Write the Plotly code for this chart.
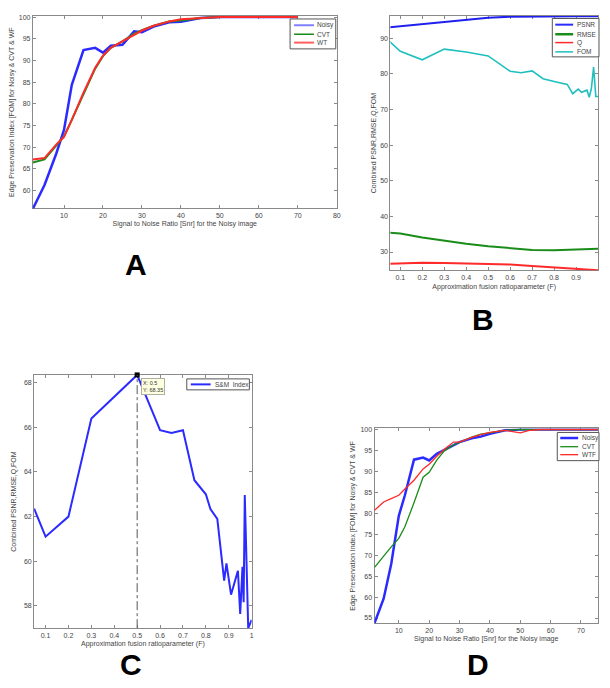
import plotly.graph_objects as go

# the page body adds an 8px margin; size the figure so the page fits the 610x688 window
OX, OY = 8, 8
W, H = 610 - 2 * OX, 688 - 2 * OY

# ---- Panel A: FOM vs SNR (Noisy / CVT / WT)
a_snr = [2, 5, 8, 10, 12, 15, 18, 20, 22, 25, 28, 30, 33, 37, 40, 45, 50, 60, 70]
a_noisy = [55.8, 61.3, 68.5, 74.0, 84.4, 92.4, 92.9, 91.8, 93.4, 93.6, 96.7, 96.5,
           97.8, 98.8, 98.9, 99.8, 100, 100, 100]
a_cvt = [66.5, 67.2, 70.4, 72.5, 76.3, 82.3, 88.1, 91.0, 92.9, 94.4, 96.2, 97.0,
         98.0, 99.0, 99.2, 99.8, 100, 100, 100]
a_wt = [67.2, 67.5, 70.6, 72.4, 76.3, 82.6, 88.3, 91.1, 92.9, 94.4, 95.9, 96.9,
        98.0, 99.0, 99.5, 99.8, 100, 100, 100]

# ---- Panel B: PSNR / RMSE / Q / FOM vs fusion ratio F
b_f = [0.05, 0.1, 0.2, 0.3, 0.4, 0.5, 0.6, 0.7, 0.8, 0.9, 1.0]
b_psnr = [93.0, 93.3, 93.9, 94.5, 95.1, 95.7, 96.0, 96.1, 96.1, 96.1, 96.1]
b_rmse = [35.4, 35.2, 34.1, 33.1, 32.3, 31.6, 31.0, 30.6, 30.5, 30.6, 30.9]
b_q = [26.7, 26.8, 27.0, 26.9, 26.8, 26.8, 26.5, 26.1, 25.7, 25.3, 24.9]
b_fom_f = [0.05, 0.1, 0.2, 0.3, 0.4, 0.5, 0.6, 0.65, 0.7, 0.75, 0.81, 0.86, 0.885,
           0.91, 0.925, 0.95, 0.96, 0.97, 0.98, 0.99, 1.0]
b_fom = [89.1, 86.3, 83.9, 86.9, 86.1, 85.0, 80.7, 80.3, 80.8, 78.6, 77.7, 77.0, 74.4,
         75.7, 74.8, 75.4, 73.4, 75.9, 81.9, 73.6, 73.6]

# ---- Panel C: S&M index vs fusion ratio F
c_f = [0.05, 0.1, 0.2, 0.3, 0.5, 0.6, 0.65, 0.7, 0.75, 0.8, 0.82, 0.85, 0.88, 0.89,
       0.91, 0.94, 0.95, 0.96, 0.965, 0.97, 0.985, 1.0]
c_index = [62.36, 61.1, 62.0, 66.4, 68.35, 65.87, 65.75, 65.87, 63.63, 63.0, 62.34,
           61.9, 59.13, 59.9, 58.5, 59.57, 57.64, 59.75, 58.16, 62.97, 57.0, 57.37]
c_tip_f = [0.5]
c_tip_val = [68.35]

# ---- Panel D: FOM vs SNR (Noisy / CVT / WTF)
d_snr = [2, 5, 7.5, 10, 12, 15, 18, 20, 22.5, 25, 28, 30, 34, 37, 40, 45, 50, 53, 57,
         60, 70, 80]
d_noisy = [53.8, 59.6, 67.9, 79.4, 84.3, 92.8, 93.3, 92.6, 94.2, 95.2, 96.4, 97.0,
           97.9, 98.3, 99.0, 99.8, 100, 100, 100, 100, 100, 100]
d_cvt = [67.1, 69.9, 72.0, 74.0, 76.8, 82.5, 88.6, 89.8, 92.7, 94.9, 96.3, 96.9,
         98.2, 98.9, 99.3, 99.8, 100, 100, 100, 100, 100, 100]
d_wtf = [80.7, 82.7, 83.5, 84.3, 85.8, 87.9, 90.6, 91.7, 93.6, 95.3, 97.0, 97.0,
         98.1, 98.8, 99.3, 99.8, 99.2, 99.8, 100, 100, 100, 100]

BLUE = '#2b2bff'
GREEN = '#1a8c1a'
RED = '#ff2a2a'
CYAN = '#20bfbf'
FONT = 'Liberation Sans, Arial, sans-serif'


def px_x(x):
    # window pixel -> paper x
    return (x - OX) / W


def px_y(y):
    # window pixel -> paper y
    return 1 - (y - OY) / H


fig = go.Figure()

# Panel A traces
fig.add_trace(go.Scatter(x=a_snr, y=a_noisy, mode='lines', line=dict(color=BLUE, width=2.5),
                         xaxis='x', yaxis='y'))
fig.add_trace(go.Scatter(x=a_snr, y=a_cvt, mode='lines', line=dict(color=GREEN, width=2),
                         xaxis='x', yaxis='y'))
fig.add_trace(go.Scatter(x=a_snr, y=a_wt, mode='lines', line=dict(color=RED, width=2),
                         xaxis='x', yaxis='y'))

# Panel B traces
fig.add_trace(go.Scatter(x=b_f, y=b_psnr, mode='lines', line=dict(color='#2020ee', width=2),
                         xaxis='x2', yaxis='y2'))
fig.add_trace(go.Scatter(x=b_f, y=b_rmse, mode='lines', line=dict(color=GREEN, width=2),
                         xaxis='x2', yaxis='y2'))
fig.add_trace(go.Scatter(x=b_f, y=b_q, mode='lines', line=dict(color=RED, width=2),
                         xaxis='x2', yaxis='y2'))
fig.add_trace(go.Scatter(x=b_fom_f, y=b_fom, mode='lines', line=dict(color=CYAN, width=1.6),
                         xaxis='x2', yaxis='y2'))

# Panel C traces
fig.add_trace(go.Scatter(x=c_f, y=c_index, mode='lines', line=dict(color=BLUE, width=2),
                         xaxis='x3', yaxis='y3'))
fig.add_trace(go.Scatter(x=c_tip_f, y=c_tip_val, mode='markers', cliponaxis=False,
                         marker=dict(color='black', size=5, symbol='square'),
                         xaxis='x3', yaxis='y3'))

# Panel D traces
fig.add_trace(go.Scatter(x=d_snr, y=d_noisy, mode='lines', line=dict(color=BLUE, width=2.5),
                         xaxis='x4', yaxis='y4'))
fig.add_trace(go.Scatter(x=d_snr, y=d_cvt, mode='lines', line=dict(color=GREEN, width=1.3),
                         xaxis='x4', yaxis='y4'))
fig.add_trace(go.Scatter(x=d_snr, y=d_wtf, mode='lines', line=dict(color=RED, width=1.3),
                         xaxis='x4', yaxis='y4'))

axis_style = dict(showline=True, linecolor='#8a8a8a', linewidth=1, mirror='ticks',
                  ticks='inside', ticklen=3, tickcolor='#8a8a8a', showgrid=False,
                  zeroline=False, layer='below traces',
                  tickfont=dict(size=7, color='#444', family=FONT),
                  title_font=dict(size=7, color='#444', family=FONT))

snr_title = 'Signal to Noise Ratio [Snr] for the Noisy image'
fom_title = 'Edge Preservation Index [FOM] for Noisy & CVT & WF'
f_title = 'Approximation fusion ratioparameter (F)'
comb_title = 'Combined PSNR,RMSE,Q,FOM'

fig.update_layout(
    width=W, height=H,
    margin=dict(l=0, r=0, t=0, b=0),
    paper_bgcolor='white', plot_bgcolor='white',
    showlegend=False,
    font=dict(family=FONT),
    xaxis=dict(axis_style, domain=[px_x(33), px_x(339)], anchor='y', range=[2, 80],
               tickvals=[10, 20, 30, 40, 50, 60, 70, 80],
               title=dict(text=snr_title, standoff=3)),
    yaxis=dict(axis_style, domain=[px_y(207), px_y(14)], anchor='x', range=[55.9, 100.25],
               tickvals=[60, 65, 70, 75, 80, 85, 90, 95, 100],
               title=dict(text=fom_title, standoff=3)),
    xaxis2=dict(axis_style, domain=[px_x(393), 1.0], anchor='y2', range=[0.055, 1.0],
                tickvals=[0.1, 0.2, 0.3, 0.4, 0.5, 0.6, 0.7, 0.8, 0.9],
                title=dict(text=f_title, standoff=4)),
    yaxis2=dict(axis_style, domain=[px_y(269), px_y(14)], anchor='x2', range=[24.9, 96.2],
                tickvals=[30, 40, 50, 60, 70, 80, 90],
                title=dict(text=comb_title, standoff=2)),
    xaxis3=dict(axis_style, domain=[px_x(34.3), px_x(253.3)], anchor='y3', range=[0.05, 1.0],
                tickvals=[0.1, 0.2, 0.3, 0.4, 0.5, 0.6, 0.7, 0.8, 0.9, 1.0],
                title=dict(text=f_title, standoff=3)),
    yaxis3=dict(axis_style, domain=[px_y(628), px_y(374)], anchor='x3', range=[57.0, 68.35],
                tickvals=[58, 60, 62, 64, 66, 68],
                title=dict(text=comb_title, standoff=6)),
    xaxis4=dict(axis_style, domain=[px_x(377), 1.0], anchor='y4', range=[2, 75.6],
                tickvals=[10, 20, 30, 40, 50, 60, 70],
                title=dict(text=snr_title, standoff=3)),
    yaxis4=dict(axis_style, domain=[px_y(623.3), px_y(427.7)], anchor='x4', range=[53.7, 100.25],
                tickvals=[55, 60, 65, 70, 75, 80, 85, 90, 95, 100],
                title=dict(text=fom_title, standoff=3)),
)

# dash-dot cursor line in panel C
fig.add_shape(type='line', xref='x3', yref='y3 domain', x0=0.5, x1=0.5, y0=0, y1=1,
              line=dict(color='#555', width=1, dash='dashdot'))
fig.add_annotation(xref='x3', yref='y3', x=0.5, y=68.35, xanchor='left', yanchor='top',
                   xshift=4, yshift=-3, showarrow=False, align='left',
                   text='X: 0.5<br>Y: 68.35', font=dict(size=5.5, color='#333', family=FONT),
                   bgcolor='#ffffe1', bordercolor='#b0b0a0', borderwidth=1, borderpad=1)


def add_legend(box, line_x, text_x, rows):
    # box and positions in pixels of the 610x688 window
    x0, y0, x1, y1 = box
    fig.add_shape(type='rect', xref='paper', yref='paper',
                  x0=px_x(x0), x1=px_x(x1), y0=px_y(y1), y1=px_y(y0),
                  fillcolor='white', line=dict(color='#555', width=1))
    for label, color, width, y in rows:
        fig.add_shape(type='line', xref='paper', yref='paper',
                      x0=px_x(line_x[0]), x1=px_x(line_x[1]), y0=px_y(y), y1=px_y(y),
                      line=dict(color=color, width=width))
        fig.add_annotation(xref='paper', yref='paper', x=px_x(text_x), y=px_y(y),
                           xanchor='left', yanchor='middle', showarrow=False, text=label,
                           font=dict(size=6.5, color='#444', family=FONT))


add_legend((292, 17, 338, 47), (296, 316), 317,
           [('Noisy', '#8080ff', 2, 23.3), ('CVT', GREEN, 1.5, 32.3), ('WT', '#ff6060', 2, 40.7)])
add_legend((556, 16.5, 603, 55), (559, 577), 579,
           [('PSNR', BLUE, 2, 22.7), ('RMSE', GREEN, 2.5, 32.3), ('Q', RED, 1.5, 40.7),
            ('FOM', CYAN, 1.5, 50)])
add_legend((188, 378, 251, 389), (192, 212), 214,
           [('S&M  Index', BLUE, 2, 383.5)])
add_legend((561, 431.7, 603, 460), (564, 582), 584,
           [('Noisy', BLUE, 2.5, 437.3), ('CVT', GREEN, 1.3, 446), ('WTF', RED, 1.3, 454)])

# panel letters
for letter, x, y in [('A', 137, 263), ('B', 486, 318), ('C', 132, 664), ('D', 481, 664)]:
    fig.add_annotation(xref='paper', yref='paper', x=px_x(x), y=px_y(y), showarrow=False,
                       text='<b>%s</b>' % letter, xanchor='center', yanchor='middle',
                       font=dict(size=30, color='black', family=FONT))

fig.write_html("out.html")
